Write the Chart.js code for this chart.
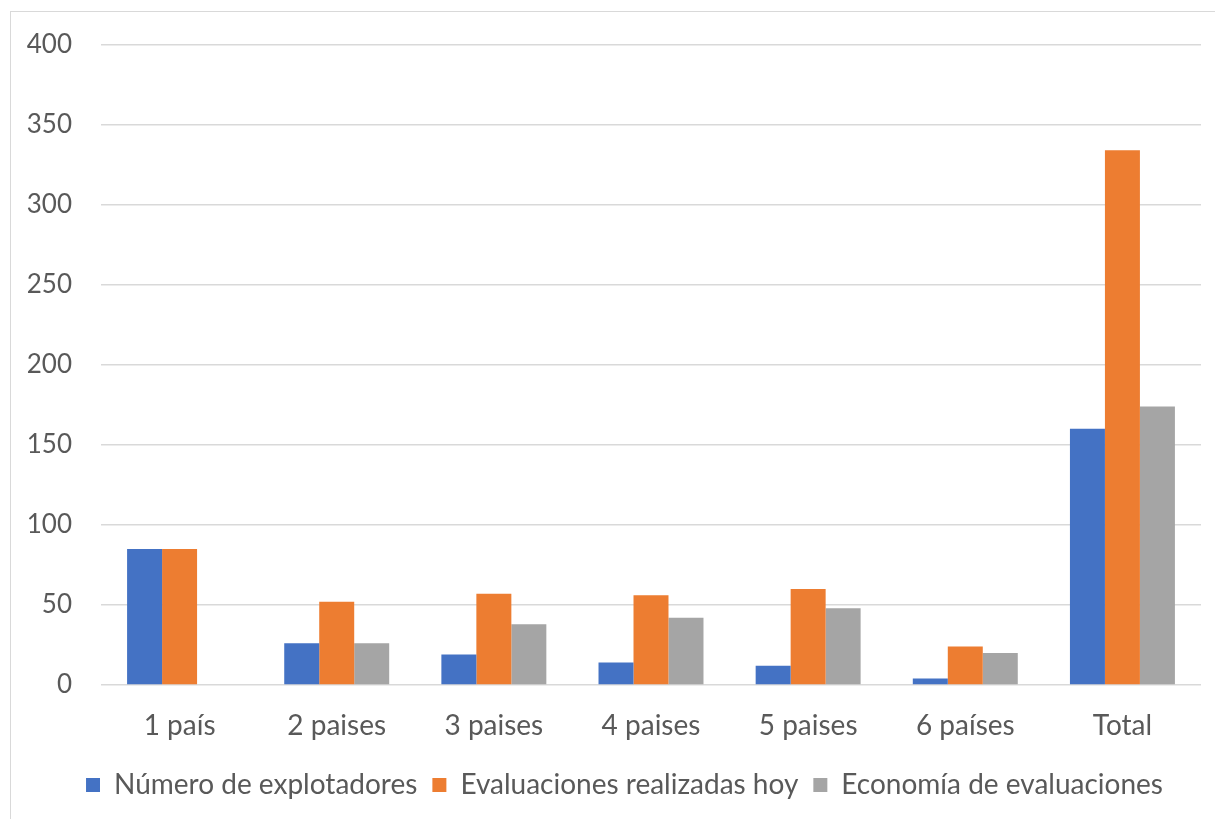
<!DOCTYPE html>
<html>
<head>
<meta charset="utf-8">
<script src="https://cdn.jsdelivr.net/npm/chart.js@4.4.1/dist/chart.umd.min.js"></script>
<style>
  html, body { margin: 0; padding: 0; background: #fff; overflow: hidden; }
  #frame { position: absolute; left: 10px; top: 11px; width: 1300px; height: 900px; border: 1px solid #d9d9d9; }
  #wrap { position: absolute; left: 0; top: 0; width: 1215px; height: 819px; }
</style>
</head>
<body>
<div id="frame"></div>
<div id="wrap"><canvas id="myChart" width="1215" height="819"></canvas></div>
<script>
// categories and series
const categories = ["1 país", "2 paises", "3 paises", "4 paises", "5 paises", "6 países", "Total"];
const explotadores = [85, 26, 19, 14, 12, 4, 160];
const evaluacionesHoy = [85, 52, 57, 56, 60, 24, 334];
const economia = [0, 26, 38, 42, 48, 20, 174];
const yTicks = [0, 50, 100, 150, 200, 250, 300, 350, 400];

const textColor = "#595959";
const fontFamily = "Lato, 'Open Sans', sans-serif";

const ctx = document.getElementById("myChart").getContext("2d");
const chart = new Chart(ctx, {
    type: "bar",
    data: {
        labels: categories,
        datasets: [
            {
                label: "Número de explotadores",
                data: explotadores,
                backgroundColor: "#4472C4"
            },
            {
                label: "Evaluaciones realizadas hoy",
                data: evaluacionesHoy,
                backgroundColor: "#ED7D31"
            },
            {
                label: "Economía de evaluaciones",
                data: economia,
                backgroundColor: "#A5A5A5"
            }
        ]
    },
    options: {
        responsive: false,
        animation: false,
        layout: {
            // left padding only shifts the legend; the y axis width below makes up for it
            padding: { top: 43, right: 14, left: 48, bottom: 10 }
        },
        datasets: {
            bar: {
                categoryPercentage: 0.668,
                barPercentage: 1,
                borderWidth: 0
            }
        },
        scales: {
            x: {
                grid: { display: false },
                border: { display: false },
                ticks: {
                    color: textColor,
                    padding: 16,
                    font: { family: fontFamily, size: 28 }
                },
                afterFit: (scale) => { scale.height = 71; }
            },
            y: {
                min: 0,
                max: 400,
                afterBuildTicks: (scale) => {
                    scale.ticks = yTicks.map(v => ({ value: v }));
                },
                grid: {
                    color: "#d9d9d9",
                    lineWidth: 1.5,
                    drawTicks: false
                },
                border: { display: false },
                ticks: {
                    color: textColor,
                    padding: 29,
                    font: { family: fontFamily, size: 26 }
                },
                afterFit: (scale) => {
                    scale.width = 53;
                    // labels reach past the padded edge, so don't clip them
                    scale._computeLabelArea = () => undefined;
                }
            }
        },
        plugins: {
            legend: {
                display: true,
                position: "bottom",
                labels: {
                    color: textColor,
                    boxWidth: 14,
                    boxHeight: 14,
                    padding: 15,
                    font: { family: fontFamily, size: 28 }
                }
            },
            tooltip: { enabled: false }
        }
    }
});
</script>
</body>
</html>
